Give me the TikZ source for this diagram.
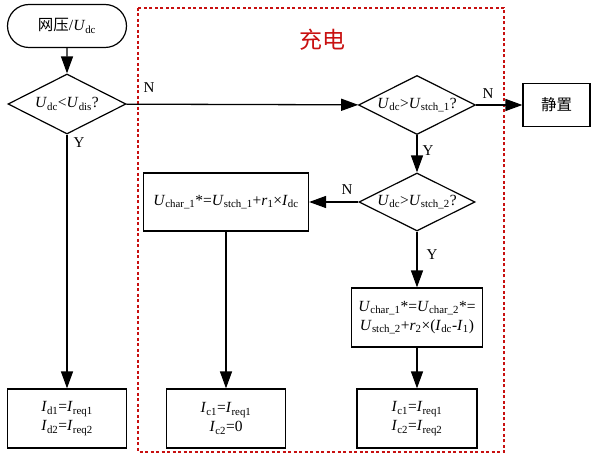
\documentclass[tikz,border=0pt]{standalone}
\usepackage{fontspec}
\setmainfont{Liberation Serif}
\newfontfamily\cjk{Noto Sans CJK SC}
\usetikzlibrary{shapes.geometric,shapes.misc,arrows.meta}
\definecolor{chargeRed}{RGB}{200,16,16}
\tikzstyle{flowBase} = [draw=black, line width=1.2pt, font=\fontsize{15.5}{19}\selectfont, align=center, inner sep=0pt]
\tikzstyle{termStyle} = [flowBase, rounded rectangle, minimum width=119pt, minimum height=43pt]
\tikzstyle{boxStyle} = [flowBase, rectangle]
\tikzstyle{decisionStyle} = [flowBase, diamond, aspect=2]
\tikzstyle{flowArrow} = [line width=1.3pt, -{Triangle[length=17pt,width=12pt]}]
\tikzstyle{branchText} = [font=\fontsize{15}{17}\selectfont, inner sep=0pt]
\tikzstyle{chargeFrame} = [draw=chargeRed, line width=1.8pt, dash pattern=on 3pt off 2.5pt]
\newcommand{\varSub}[2]{\textit{#1}\textsubscript{#2}}

\begin{document}
\begin{tikzpicture}[x=1pt, y=-1pt]
  \useasboundingbox (0,0) rectangle (595,454);
  % charging region
  \draw [chargeFrame] (138,8) rectangle (504,452);
  \node [font=\fontsize{23}{25}\selectfont\cjk, text=chargeRed] (chargeTitle) at (322,40) {充电};

  % nodes
  \node [termStyle] (start) at (67,26) {{\cjk 网压}/\varSub{U}{dc}};
  \node [decisionStyle, minimum width=118pt, minimum height=60pt] (diaDis) at (67,104) {\varSub{U}{dc}<\varSub{U}{dis}?};
  \node [decisionStyle, minimum width=117pt, minimum height=59pt] (diaStchA) at (417,105) {\varSub{U}{dc}>\varSub{U}{stch\_1}?};
  \node [boxStyle, minimum width=67pt, minimum height=43pt] (idle) at (556.5,105) {\cjk 静置};
  \node [decisionStyle, minimum width=116pt, minimum height=58pt] (diaStchB) at (417,202) {\varSub{U}{dc}>\varSub{U}{stch\_2}?};
  \node [boxStyle, minimum width=165pt, minimum height=58pt] (calcA) at (226,202) {\varSub{U}{char\_1}*=\varSub{U}{stch\_1}+\varSub{r}{1}×\varSub{I}{dc}};
  \node [boxStyle, minimum width=131pt, minimum height=59pt] (calcB) at (417,317.5) {\varSub{U}{char\_1}*=\varSub{U}{char\_2}*=\\\varSub{U}{stch\_2}+\varSub{r}{2}×(\varSub{I}{dc}-\varSub{I}{1})};
  \node [boxStyle, minimum width=119pt, minimum height=59pt] (outDis) at (67,418.5) {\varSub{I}{d1}=\varSub{I}{req1}\\\varSub{I}{d2}=\varSub{I}{req2}};
  \node [boxStyle, minimum width=119pt, minimum height=59pt] (outChargeA) at (226,418.5) {\varSub{I}{c1}=\varSub{I}{req1}\\\varSub{I}{c2}=0};
  \node [boxStyle, minimum width=120pt, minimum height=59pt] (outChargeB) at (417,418.5) {\varSub{I}{c1}=\varSub{I}{req1}\\\varSub{I}{c2}=\varSub{I}{req2}};

  % connectors
  \draw [flowArrow] (start) -- (diaDis);
  \draw [flowArrow] (diaDis) -- (outDis);
  \draw [flowArrow] (diaDis) -- (diaStchA);
  \draw [flowArrow] (diaStchA) -- (idle);
  \draw [flowArrow] (diaStchA) -- (diaStchB);
  \draw [flowArrow] (diaStchB) -- (calcA);
  \draw [flowArrow] (diaStchB) -- (calcB);
  \draw [flowArrow] (calcA) -- (outChargeA);
  \draw [flowArrow] (calcB) -- (outChargeB);

  % branch labels
  \node [branchText] (yDis) at (79,143) {Y};
  \node [branchText] (nDis) at (149,88) {N};
  \node [branchText] (nStchA) at (488,94) {N};
  \node [branchText] (yStchA) at (428,151) {Y};
  \node [branchText] (nStchB) at (347,190) {N};
  \node [branchText] (yStchB) at (432,255) {Y};
\end{tikzpicture}
\end{document}
